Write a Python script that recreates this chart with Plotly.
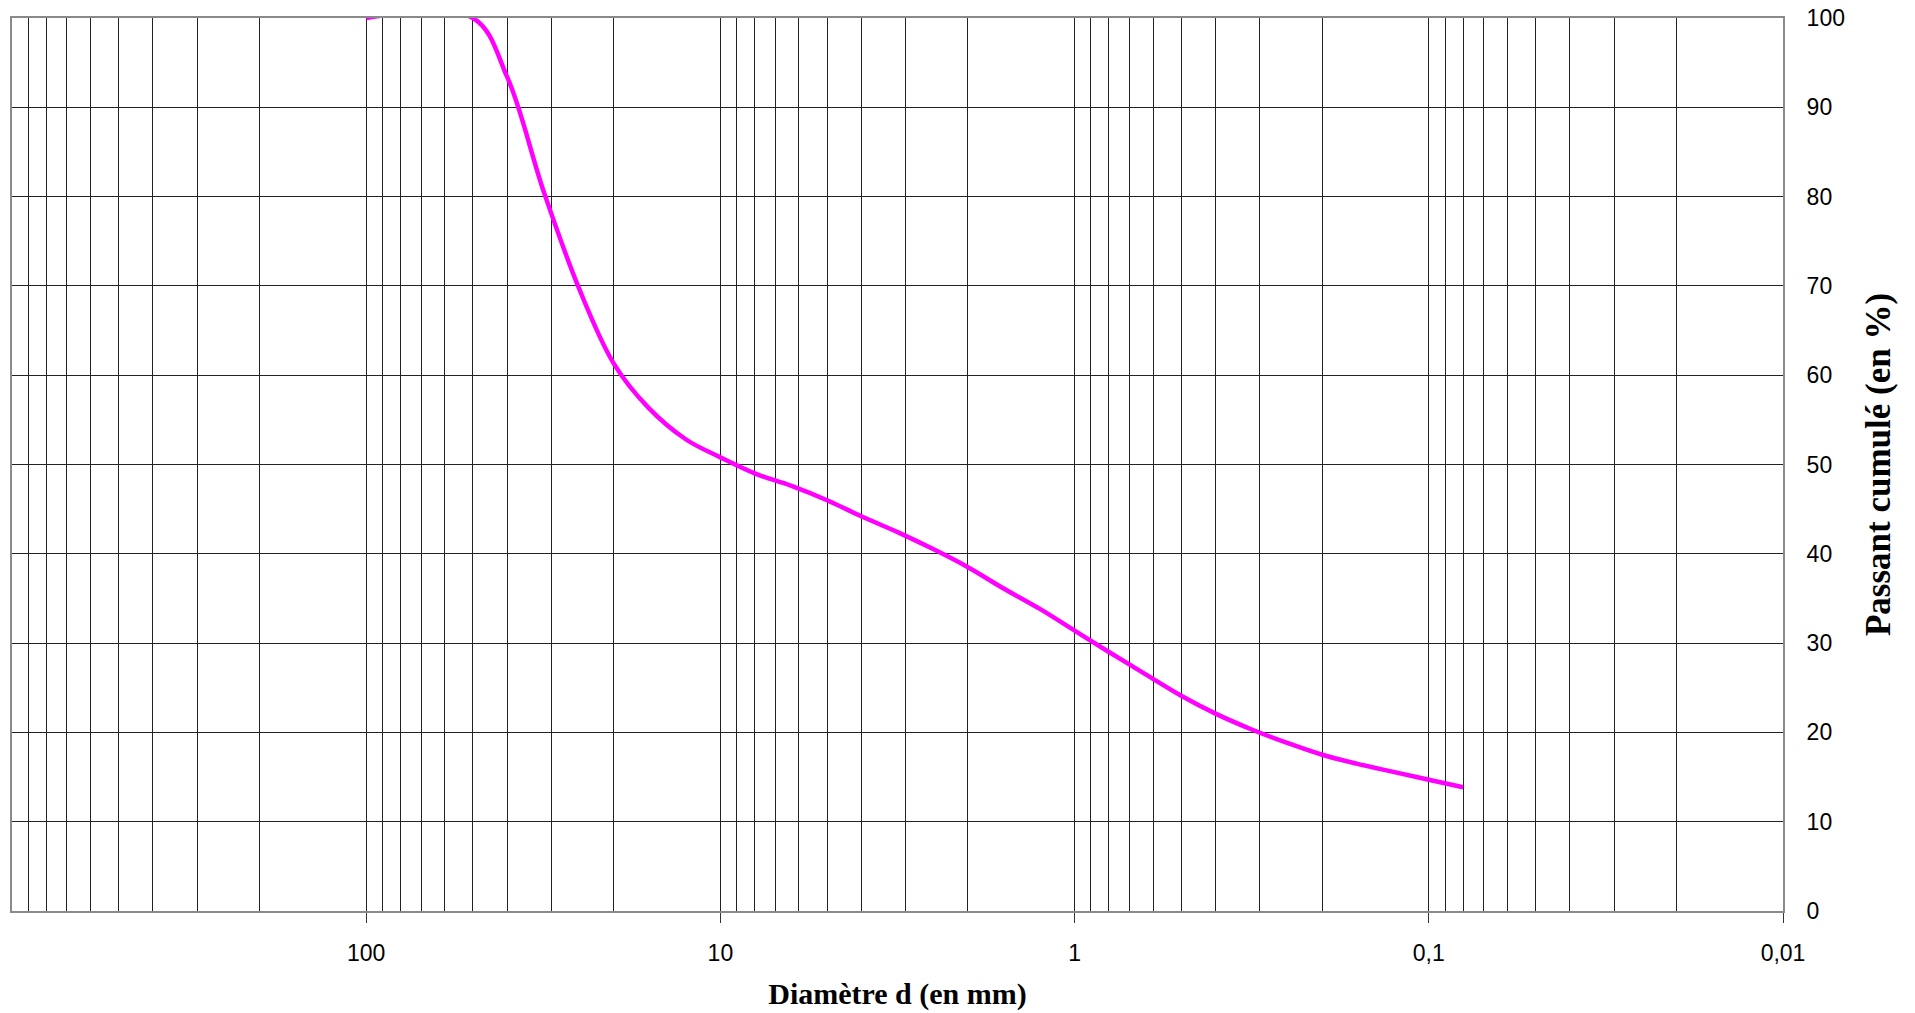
import plotly.graph_objects as go

# Sieve sizes (mm) and cumulative passing (%)
diametres = [100, 50, 40, 31.5, 25, 20, 16, 12.5, 10, 8, 6.3, 5, 4, 3.15, 2.5, 2,
             1.6, 1.25, 1, 0.8, 0.63, 0.5, 0.4, 0.315, 0.25, 0.2, 0.16, 0.125, 0.1, 0.08]
passant = [100, 100, 93.4, 80.5, 69.6, 61.3, 56.4, 52.8, 50.8, 49.0, 47.6, 46.0, 44.2, 42.4, 40.5, 38.5,
           36.2, 33.8, 31.4, 29.0, 26.5, 24.1, 22.1, 20.3, 18.8, 17.5, 16.5, 15.55, 14.7, 13.85]

x_tickvals = [100, 10, 1, 0.1, 0.01]
x_ticktext = ["100", "10", "1", "0,1", "0,01"]
y_tickvals = [0, 10, 20, 30, 40, 50, 60, 70, 80, 90, 100]

fig = go.Figure()
fig.add_trace(go.Scatter(
    x=diametres, y=passant, mode="lines",
    line=dict(color="#FF00FF", width=4.5, shape="spline", smoothing=1.0),
    showlegend=False, hoverinfo="x+y",
))

grid_col = "#222222"
border_col = "#8a8a8a"
title_font = "Liberation Serif, Times New Roman, serif"
fig.update_layout(
    width=1915, height=1013,
    margin=dict(l=12, r=132, t=18, b=102, autoexpand=False),
    paper_bgcolor="white", plot_bgcolor="white",
    font=dict(family="Liberation Sans, Arial, sans-serif", size=23, color="black"),
    xaxis=dict(
        type="log", range=[3, -2],
        tickvals=x_tickvals, ticktext=x_ticktext,
        ticks="outside", ticklen=10, tickwidth=1, tickcolor="#333",
        showgrid=True, gridcolor=grid_col, gridwidth=1,
        minor=dict(dtick="D1", showgrid=True, gridcolor=grid_col, gridwidth=1, ticks=""),
        showline=True, linecolor=border_col, linewidth=2, mirror=True,
        zeroline=False, automargin=False,
        ticklabelstandoff=10,
        title=dict(text="Diamètre d (en mm)",
                   font=dict(family=title_font, size=30, color="black", weight="bold"),
                   standoff=18),
    ),
    yaxis=dict(
        range=[0, 100], side="right",
        tickvals=y_tickvals,
        ticks="", showgrid=True, gridcolor=grid_col, gridwidth=1,
        showline=True, linecolor=border_col, linewidth=2, mirror=True,
        zeroline=False, automargin=False,
        ticklabelstandoff=17,
        title=dict(text="Passant cumulé (en %)",
                   font=dict(family=title_font, size=35, color="black", weight="bold"),
                   standoff=22),
    ),
)

fig.write_html("out.html", config={"displayModeBar": False},
               post_script="document.body.style.margin='0';")
